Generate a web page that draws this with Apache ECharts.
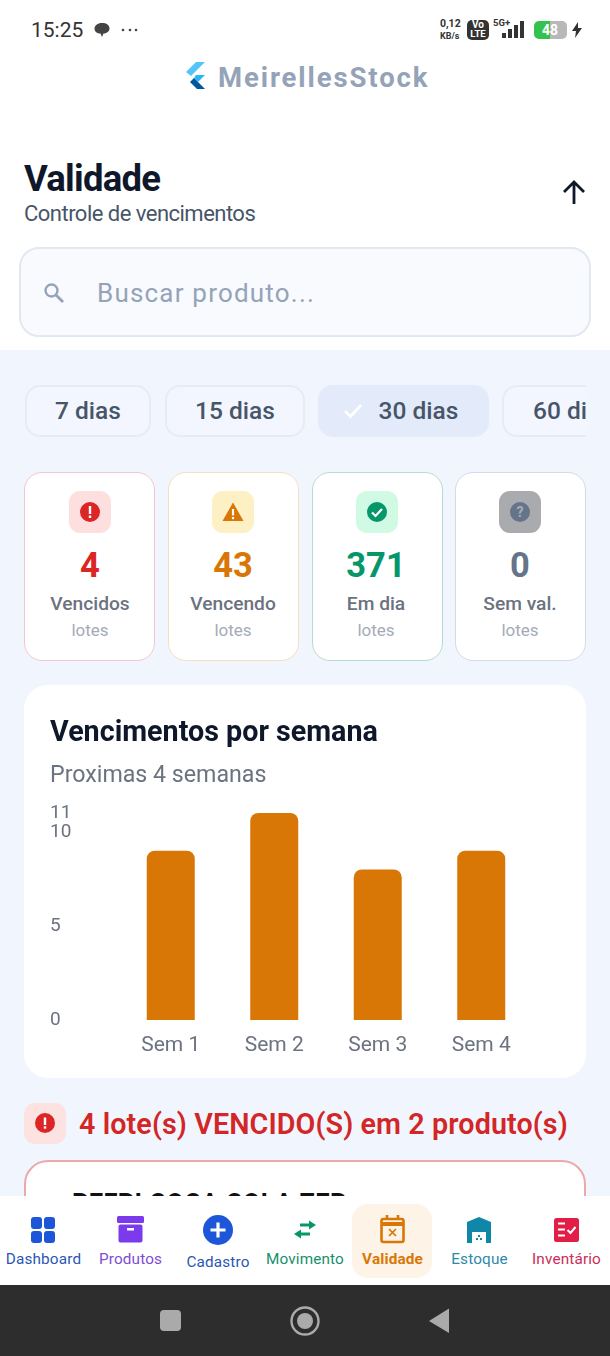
<!DOCTYPE html>
<html lang="pt"><head><meta charset="utf-8">
<script src="https://cdn.jsdelivr.net/npm/echarts@6/dist/echarts.min.js"></script>
<style>
html,body{margin:0;padding:0;width:610px;height:1356px;overflow:hidden;background:#fff;font-family:Roboto,sans-serif}
.a{position:absolute;box-sizing:border-box}
.t{position:absolute;white-space:nowrap;transform:translateY(-50%);line-height:1}
.c{transform:translate(-50%,-50%);text-align:center}
.chip{position:absolute;top:385px;height:52px;box-sizing:border-box;border:2px solid #e6ebf6;border-radius:15px;background:#f3f6fe;color:#475569;font-size:24.5px;font-weight:500;display:flex;align-items:center;justify-content:center;padding-bottom:2px}
.stat{position:absolute;top:472px;width:131px;height:189px;box-sizing:border-box;background:#fff;border-radius:18px;border:1.5px solid}
.ib{position:absolute;top:491px;width:42px;height:42px;border-radius:11px;display:flex;align-items:center;justify-content:center}
.nav{font-size:15.3px;letter-spacing:.15px}
</style></head><body>
<div class="a" style="left:0;top:350px;width:610px;height:846px;background:#f1f5fe"></div>

<!-- status bar -->
<span class="t" style="left:31px;top:30px;font-size:21px;color:#333">15:25</span>
<svg class="a" style="left:93px;top:21px" width="18" height="18"><path d="M9 2c4.500 0 7.500 2 7.500 5.500S13 12.500 10.500 12.500L9 16l-1.500-3.500C4 12.500 1.500 10.500 1.500 7.500S4.500 2 9 2z" fill="#444"/></svg>
<svg class="a" style="left:120px;top:26px" width="20" height="8"><circle cx="3" cy="4" r="1.300" fill="#444"/><circle cx="10" cy="4" r="1.300" fill="#444"/><circle cx="16" cy="4" r="1.300" fill="#444"/></svg>
<span class="t" style="left:440px;top:24px;font-size:10.500px;font-weight:700;color:#333">0,12</span>
<span class="t" style="left:440px;top:36px;font-size:9px;font-weight:700;color:#333">KB/s</span>
<div class="a" style="left:467px;top:20px;width:22px;height:20px;border-radius:5px;background:#333"></div>
<span class="t" style="left:478px;top:25px;font-size:10px;font-weight:700;color:#fff;transform:translate(-50%,-50%)">Vo</span>
<span class="t" style="left:478px;top:34px;font-size:9.500px;font-weight:700;color:#fff;transform:translate(-50%,-50%)">LTE</span>
<span class="t" style="left:493px;top:23px;font-size:9.500px;font-weight:700;color:#333">5G+</span>
<svg class="a" style="left:496px;top:20px" width="32" height="20"><rect x="6" y="13" width="4" height="5" fill="#333"/><rect x="12" y="9" width="4" height="9" fill="#333"/><rect x="18" y="5" width="4" height="13" fill="#333"/><rect x="24" y="1" width="4" height="17" fill="#333"/></svg>
<div class="a" style="left:534px;top:21px;width:33px;height:18px;border-radius:5px;background:linear-gradient(90deg,#33c24d 0 50%,#b8b8b8 50%)"></div>
<span class="t" style="left:550px;top:30px;font-size:14px;font-weight:700;color:#fff;transform:translate(-50%,-50%)">48</span>
<svg class="a" style="left:570px;top:21px" width="14" height="18"><path d="M8 1L2 10h4l-1 7 7-10H8z" fill="#333"/></svg>

<!-- brand -->
<svg class="a" style="left:181px;top:62px" width="24" height="28"><path d="M15 0h9L10 14l-5-4z" fill="#54c5f8"/><path d="M15 13h9l-7 7-4-4z" fill="#29b6f6"/><path d="M13 16l4 4 7 7h-8l-7-7z" fill="#01579b"/></svg>
<span class="t" style="left:218px;top:78px;font-size:27.500px;font-weight:700;color:#94a3b8;letter-spacing:1.900px">MeirellesStock</span>

<!-- heading -->
<span class="t" style="left:24px;top:179px;font-size:36.500px;font-weight:700;color:#0f172a;letter-spacing:-.75px">Validade</span>
<span class="t" style="left:24px;top:214px;font-size:22px;color:#475569;letter-spacing:-.52px">Controle de vencimentos</span>
<svg class="a" style="left:561px;top:179px" width="26" height="27"><path d="M13 25V3M3 13L13 3l10 10" fill="none" stroke="#0f172a" stroke-width="2.800"/></svg>

<!-- search -->
<div class="a" style="left:19px;top:247px;width:572px;height:90px;background:#f8fafe;border:2px solid #e2e8f0;border-radius:20px"></div>
<svg class="a" style="left:42px;top:281px" width="24" height="24"><circle cx="9.500" cy="9.500" r="6" fill="none" stroke="#94a3b8" stroke-width="2.400"/><path d="M14 14l7 7" stroke="#94a3b8" stroke-width="2.800"/></svg>
<span class="t" style="left:97px;top:293px;font-size:26px;color:#94a3b8;letter-spacing:1.200px">Buscar produto...</span>

<!-- filter chips -->
<div class="chip" style="left:25px;width:126px">7 dias</div>
<div class="chip" style="left:165px;width:140px">15 dias</div>
<div class="chip" style="left:318px;width:171px;background:#e3eafa;border-color:#e3eafa;padding-left:30px">30 dias</div>
<svg class="a" style="left:343px;top:402px" width="20" height="18"><path d="M2 9l5.500 5.500L18 3" fill="none" stroke="#fff" stroke-width="2.600"/></svg>
<div class="a" style="left:502px;top:385px;width:84px;height:52px;overflow:hidden"><div class="chip" style="left:0;top:0;width:130px;justify-content:flex-start;padding-left:29px">60 dias</div></div>

<!-- stat cards -->
<div class="stat" style="left:24px;border-color:#f6c6cc"></div>
<div class="stat" style="left:168px;border-color:#f5e0bd"></div>
<div class="stat" style="left:311.500px;border-color:#b4ddcf"></div>
<div class="stat" style="left:455px;border-color:#d3dbe6"></div>
<div class="ib" style="left:69px;background:#fddfdf"><svg width="22" height="22"><circle cx="11" cy="11" r="10" fill="#dc2626"/><rect x="9.800" y="5" width="2.400" height="8" fill="#fff"/><rect x="9.800" y="14.500" width="2.400" height="2.500" fill="#fff"/></svg></div>
<div class="ib" style="left:212px;background:#fdf0c4"><svg width="22" height="22"><path d="M11 1.500L21.500 20H.5z" fill="#d97706"/><rect x="9.900" y="8" width="2.200" height="6.500" fill="#fff"/><rect x="9.900" y="16" width="2.200" height="2.200" fill="#fff"/></svg></div>
<div class="ib" style="left:356px;background:#d1fae5"><svg width="22" height="22"><circle cx="11" cy="11" r="10" fill="#059669"/><path d="M6 11.500l3.500 3.500L16 8" fill="none" stroke="#fff" stroke-width="2.200"/></svg></div>
<div class="ib" style="left:499px;background:#a9abae"><svg width="22" height="22"><circle cx="11" cy="11" r="10" fill="#64748b"/><text x="11" y="16" text-anchor="middle" font-size="14" font-weight="700" fill="#a9abae" font-family="Roboto">?</text></svg></div>
<span class="t c" style="left:90px;top:565px;font-size:34.500px;font-weight:700;color:#dc2626">4</span>
<span class="t c" style="left:233px;top:565px;font-size:34.500px;font-weight:700;color:#d97706">43</span>
<span class="t c" style="left:376px;top:565px;font-size:34.500px;font-weight:700;color:#059669">371</span>
<span class="t c" style="left:520px;top:565px;font-size:34.500px;font-weight:700;color:#64748b">0</span>
<span class="t c" style="left:90px;top:604px;font-size:19.200px;font-weight:500;color:#6b7280">Vencidos</span>
<span class="t c" style="left:233px;top:604px;font-size:19.200px;font-weight:500;color:#6b7280">Vencendo</span>
<span class="t c" style="left:376px;top:604px;font-size:19.200px;font-weight:500;color:#6b7280">Em dia</span>
<span class="t c" style="left:520px;top:604px;font-size:19.200px;font-weight:500;color:#6b7280">Sem val.</span>
<span class="t c" style="left:90px;top:630px;font-size:17px;color:#a4abb6">lotes</span>
<span class="t c" style="left:233px;top:630px;font-size:17px;color:#a4abb6">lotes</span>
<span class="t c" style="left:376px;top:630px;font-size:17px;color:#a4abb6">lotes</span>
<span class="t c" style="left:520px;top:630px;font-size:17px;color:#a4abb6">lotes</span>

<!-- chart card -->
<div class="a" style="left:24px;top:685px;width:562px;height:393px;background:#fff;border-radius:24px"></div>
<div id="chart" class="a" style="left:24px;top:685px;width:562px;height:393px"></div>

<!-- alert -->
<div class="a" style="left:24px;top:1103px;width:42px;height:41px;border-radius:11px;background:#fde2e2"></div>
<svg class="a" style="left:35px;top:1113px" width="20" height="20"><circle cx="10" cy="10" r="10" fill="#dc2626"/><rect x="8.800" y="4.500" width="2.400" height="7.500" fill="#fff"/><rect x="8.800" y="13.300" width="2.400" height="2.400" fill="#fff"/></svg>
<span class="t" style="left:79px;top:1124px;font-size:28.700px;font-weight:600;color:#d32626;letter-spacing:.1px">4 lote(s) VENCIDO(S) em 2 produto(s)</span>
<div class="a" style="left:24px;top:1160px;width:562px;height:80px;background:#fff;border:2px solid #eba9a9;border-radius:24px"></div>
<span class="t" style="left:72px;top:1204px;font-size:25.500px;font-weight:700;color:#111;letter-spacing:.4px">REFRI COCA COLA ZER</span>

<!-- bottom nav -->
<div class="a" style="left:0;top:1196px;width:610px;height:89px;background:#fff"></div>
<div class="a" style="left:352px;top:1204px;width:80px;height:74px;background:#fdf3e7;border-radius:16px"></div>
<svg class="a" style="left:30px;top:1216px" width="26" height="28" fill="#1d56d8"><rect x="1" y="1" width="11" height="12" rx="3"/><rect x="14" y="1" width="11" height="12" rx="3"/><rect x="1" y="15" width="11" height="12" rx="3"/><rect x="14" y="15" width="11" height="12" rx="3"/></svg>
<svg class="a" style="left:117px;top:1216px" width="27" height="28" fill="#7c3aed"><rect x="0" y="0" width="27" height="7" rx="1.500"/><rect x="1.500" y="8.500" width="24" height="18" rx="2"/><rect x="10" y="12" width="7" height="2.500" fill="#fff"/></svg>
<svg class="a" style="left:292px;top:1218px" width="26" height="24" fill="none" stroke="#059669" stroke-width="3"><path d="M8 7h13"/><path d="M24 7l-7 4.500V2.500z" fill="#059669" stroke="none"/><path d="M18 16H5"/><path d="M2 16l7-4.500v9z" fill="#059669" stroke="none"/></svg>
<svg class="a" style="left:202px;top:1214px" width="32" height="32"><circle cx="16" cy="16" r="15" fill="#1d56d8"/><path d="M16 8.500v15M8.500 16h15" stroke="#fff" stroke-width="3.200"/></svg>
<svg class="a" style="left:380px;top:1215px" width="25" height="30" fill="none" stroke="#d97706" stroke-width="2.600"><rect x="1.500" y="4" width="22" height="23" rx="2"/><path d="M1.500 9h22" stroke-width="4"/><path d="M7 0v5M18 0v5" /><path d="M9 14l7 7M16 14l-7 7" stroke-width="1.700"/></svg>
<svg class="a" style="left:466px;top:1217px" width="26" height="27"><path d="M13 0l12 5v21h-7V15H8v11H1V5z" fill="#0e87a8"/><rect x="6" y="15" width="14" height="11" fill="#fff"/><rect x="10" y="21" width="2" height="2" fill="#0e87a8"/><rect x="14" y="21" width="2" height="2" fill="#0e87a8"/><rect x="12" y="18" width="2" height="2" fill="#0e87a8"/></svg>
<svg class="a" style="left:554px;top:1218px" width="25" height="24"><rect width="25" height="24" rx="2.500" fill="#e11d48"/><path d="M4 5.500h7M4 11.500h7M4 17.500h7" stroke="#fff" stroke-width="2"/><path d="M13.500 12l3 3 5-6" stroke="#fff" stroke-width="2" fill="none"/></svg>
<span class="t c nav" style="left:43.500px;top:1260px;color:#2b56b5">Dashboard</span>
<span class="t c nav" style="left:130.500px;top:1260px;color:#7e4cd6">Produtos</span>
<span class="t c nav" style="left:218px;top:1262.500px;color:#2b56b5">Cadastro</span>
<span class="t c nav" style="left:305px;top:1260px;color:#178f6c">Movimento</span>
<span class="t c nav" style="left:392.500px;top:1260px;color:#d97706;font-weight:700">Validade</span>
<span class="t c nav" style="left:479.500px;top:1260px;color:#2b8aa6">Estoque</span>
<span class="t c nav" style="left:566.500px;top:1260px;color:#cc2c58">Inventário</span>

<!-- android bar -->
<div class="a" style="left:0;top:1285px;width:610px;height:71px;background:#2d2d2d"></div>
<div class="a" style="left:160px;top:1310px;width:21px;height:21px;border-radius:4px;background:#aaa"></div>
<svg class="a" style="left:290px;top:1306px" width="30" height="30"><circle cx="15" cy="15" r="13.500" fill="none" stroke="#aaa" stroke-width="2.400"/><circle cx="15" cy="15" r="8" fill="#aaa"/></svg>
<svg class="a" style="left:428px;top:1308px" width="22" height="26"><path d="M21 .5V25L1 13z" fill="#aaa"/></svg>

<script>
const categories = ['Sem 1', 'Sem 2', 'Sem 3', 'Sem 4'];
const values = [9, 11, 8, 9];
const chartTitle = 'Vencimentos por semana';
const chartSubtitle = 'Proximas 4 semanas';

const chart = echarts.init(document.getElementById('chart'), null, {renderer: 'canvas'});
chart.setOption({
  backgroundColor: 'transparent',
  animation: false,
  textStyle: {fontFamily: 'Roboto'},
  title: {
    text: chartTitle, subtext: chartSubtitle, left: 21, top: 28, itemGap: 13,
    textStyle: {fontFamily: 'Roboto', fontSize: 28.7, fontWeight: 700, color: '#0f172a', lineHeight: 32},
    subtextStyle: {fontFamily: 'Roboto', fontSize: 23.2, color: '#6b7280', lineHeight: 26}
  },
  grid: {left: 95, right: 53, top: 128, bottom: 58},
  xAxis: {
    type: 'category', data: categories,
    axisLine: {show: false}, axisTick: {show: false},
    axisLabel: {color: '#6b7280', fontSize: 21, margin: 15, fontFamily: 'Roboto'}
  },
  yAxis: {
    type: 'value', min: 0, max: 11, interval: 5,
    splitLine: {show: false}, axisLine: {show: false}, axisTick: {show: false},
    axisLabel: {color: '#6b7280', fontSize: 19, lineHeight: 15, align: 'left', margin: 69, fontFamily: 'Roboto'}
  },
  series: [{
    type: 'bar', data: values, barWidth: 48,
    itemStyle: {color: '#d97706', borderRadius: [8, 8, 0, 0]}
  }]
});
</script>
</body></html>
